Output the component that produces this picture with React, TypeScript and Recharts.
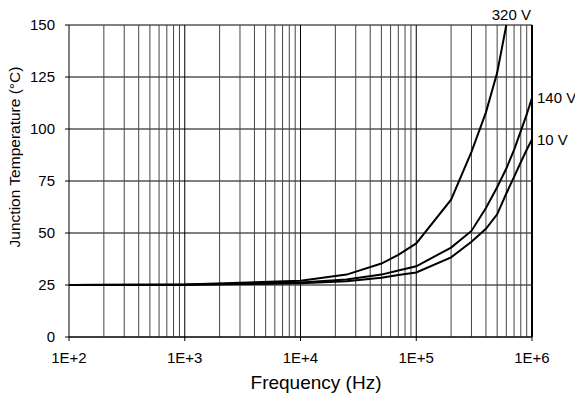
import React from "react";
import {
	LineChart,
	Line,
	XAxis,
	YAxis,
	CartesianGrid,
	ReferenceLine,
	LabelList,
} from "recharts";

// frequency points (Hz)
const freqs = [
	100, 1000, 10000, 25000, 50000, 70000, 100000, 200000, 300000, 400000,
	500000, 600000, 700000, 800000, 900000, 1000000,
];
// junction temperature (°C) per bias voltage
const temp10V = [
	25, 25.1, 25.8, 26.8, 28.5, 29.8, 31, 38.3, 45.8, 52, 59, 69, 77, 84, 90, 95,
];
const temp140V = [
	25, 25.1, 26.2, 27.6, 30, 32, 34, 43, 51, 62, 72, 81, 90, 99, 107, 115,
];
const temp320V = [25, 25.2, 27, 30, 35.3, 39.5, 45, 66, 89, 108, 127, 150];

const xTicks = [100, 1000, 10000, 100000, 1000000];
const yTicks = [0, 25, 50, 75, 100, 125, 150];
const decades = [100, 1000, 10000, 100000];
const multipliers = [2, 3, 4, 5, 6, 7, 8, 9];
const minorLines = decades.flatMap((d) => multipliers.map((m) => d * m));

const data = freqs.map((f, i) => ({
	f,
	v10: temp10V[i],
	v140: temp140V[i],
	v320: temp320V[i],
}));

const font = "'Liberation Sans', Arial, sans-serif";

const endLabel =
	(text: string, lastIndex: number, dx: number, dy: number, anchor: string) =>
	(props: any) => {
		if (props.index !== lastIndex) return null;
		return (
			<text
				x={props.x + dx}
				y={props.y + dy}
				textAnchor={anchor}
				dominantBaseline="central"
				fontSize={15}
				fontFamily={font}
				fill="#000"
			>
				{text}
			</text>
		);
	};

const fmt = (v: number) => "1E+" + Math.round(Math.log10(v));

export default function App() {
	return (
		<div style={{ position: "absolute", left: 0, top: 0, fontFamily: font }}>
			<LineChart
				width={575}
				height={397}
				data={data}
				margin={{ top: 25, right: 43, left: 0, bottom: 0 }}
			>
				<CartesianGrid vertical={false} stroke="#000" strokeWidth={1} />
				{minorLines.map((v) => (
					<ReferenceLine key={v} x={v} stroke="#444" strokeWidth={1} />
				))}
				{xTicks.slice(1).map((v) => (
					<ReferenceLine key={"m" + v} x={v} stroke="#000" strokeWidth={1} />
				))}
				<ReferenceLine x={1000000} stroke="#000" strokeWidth={2} />
				<XAxis
					dataKey="f"
					type="number"
					scale="log"
					domain={[100, 1000000]}
					ticks={xTicks}
					tickFormatter={fmt}
					allowDataOverflow
					height={60}
					stroke="#000"
					tickSize={4}
					tickMargin={11}
					tick={{ fill: "#000", fontSize: 15, fontFamily: font }}
					label={() => (
						<text
							x={316}
							y={382}
							textAnchor="middle"
							dominantBaseline="central"
							fontSize={19}
							fontFamily={font}
							fill="#000"
						>
							Frequency (Hz)
						</text>
					)}
				/>
				<YAxis
					type="number"
					domain={[0, 150]}
					ticks={yTicks}
					width={69}
					stroke="#000"
					tickSize={4}
					tickMargin={10}
					tick={{ fill: "#000", fontSize: 15, fontFamily: font }}
					label={() => (
						<text
							x={14}
							y={157}
							transform="rotate(-90, 14, 157)"
							textAnchor="middle"
							dominantBaseline="central"
							fontSize={15.5}
							fontFamily={font}
							fill="#000"
						>
							Junction Temperature (°C)
						</text>
					)}
				/>
				<Line
					dataKey="v10"
					stroke="#000"
					strokeWidth={2}
					dot={false}
					type="linear"
					isAnimationActive={false}
				>
					<LabelList
						dataKey="v10"
						content={endLabel("10 V", freqs.length - 1, 5, 0, "start")}
					/>
				</Line>
				<Line
					dataKey="v140"
					stroke="#000"
					strokeWidth={2}
					dot={false}
					type="linear"
					isAnimationActive={false}
				>
					<LabelList
						dataKey="v140"
						content={endLabel("140 V", freqs.length - 1, 5, 0, "start")}
					/>
				</Line>
				<Line
					dataKey="v320"
					stroke="#000"
					strokeWidth={2}
					dot={false}
					type="linear"
					isAnimationActive={false}
				>
					<LabelList
						dataKey="v320"
						content={endLabel("320 V", temp320V.length - 1, 5, -11, "middle")}
					/>
				</Line>
			</LineChart>
		</div>
	);
}
